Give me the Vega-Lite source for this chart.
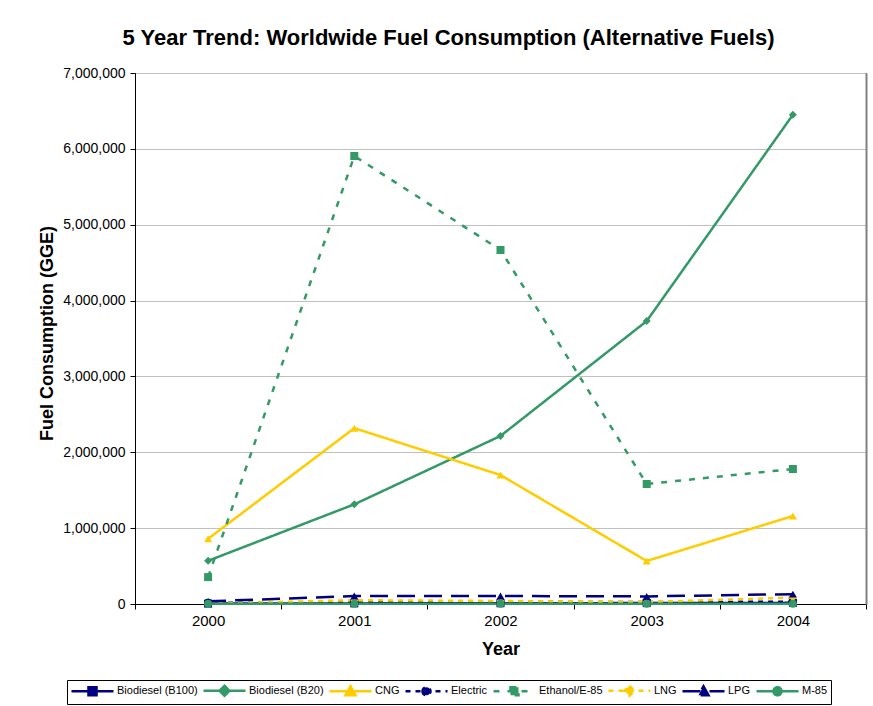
{
  "$schema": "https://vega.github.io/schema/vega-lite/v6.json",
  "width": 731,
  "height": 531,
  "autosize": {"type": "none"},
  "padding": {"left": 135, "top": 73, "right": 7, "bottom": 102},
  "background": "white",
  "title": {
    "text": "5 Year Trend: Worldwide Fuel Consumption (Alternative Fuels)",
    "font": "Liberation Sans",
    "fontSize": 22,
    "fontWeight": "bold",
    "color": "black",
    "anchor": "middle",
    "dx": -52,
    "offset": 16
  },
  "config": {
    "view": {"stroke": "black", "strokeWidth": 1},
    "font": "Liberation Sans"
  },
  "data": {
    "values": [
      {"year": "2000", "fuel": "Biodiesel (B100)", "value": 5000},
      {"year": "2001", "fuel": "Biodiesel (B100)", "value": 8000},
      {"year": "2002", "fuel": "Biodiesel (B100)", "value": 10000},
      {"year": "2003", "fuel": "Biodiesel (B100)", "value": 12000},
      {"year": "2004", "fuel": "Biodiesel (B100)", "value": 15000},
      {"year": "2000", "fuel": "Biodiesel (B20)", "value": 570000},
      {"year": "2001", "fuel": "Biodiesel (B20)", "value": 1314000},
      {"year": "2002", "fuel": "Biodiesel (B20)", "value": 2215000},
      {"year": "2003", "fuel": "Biodiesel (B20)", "value": 3730000},
      {"year": "2004", "fuel": "Biodiesel (B20)", "value": 6450000},
      {"year": "2000", "fuel": "CNG", "value": 860000},
      {"year": "2001", "fuel": "CNG", "value": 2318000},
      {"year": "2002", "fuel": "CNG", "value": 1700000},
      {"year": "2003", "fuel": "CNG", "value": 567000},
      {"year": "2004", "fuel": "CNG", "value": 1160000},
      {"year": "2000", "fuel": "Electric", "value": 15000},
      {"year": "2001", "fuel": "Electric", "value": 20000},
      {"year": "2002", "fuel": "Electric", "value": 30000},
      {"year": "2003", "fuel": "Electric", "value": 25000},
      {"year": "2004", "fuel": "Electric", "value": 30000},
      {"year": "2000", "fuel": "Ethanol/E-85", "value": 355000},
      {"year": "2001", "fuel": "Ethanol/E-85", "value": 5906000},
      {"year": "2002", "fuel": "Ethanol/E-85", "value": 4667000},
      {"year": "2003", "fuel": "Ethanol/E-85", "value": 1582000},
      {"year": "2004", "fuel": "Ethanol/E-85", "value": 1780000},
      {"year": "2000", "fuel": "LNG", "value": 5000},
      {"year": "2001", "fuel": "LNG", "value": 50000},
      {"year": "2002", "fuel": "LNG", "value": 40000},
      {"year": "2003", "fuel": "LNG", "value": 25000},
      {"year": "2004", "fuel": "LNG", "value": 85000},
      {"year": "2000", "fuel": "LPG", "value": 35000},
      {"year": "2001", "fuel": "LPG", "value": 105000},
      {"year": "2002", "fuel": "LPG", "value": 105000},
      {"year": "2003", "fuel": "LPG", "value": 100000},
      {"year": "2004", "fuel": "LPG", "value": 130000},
      {"year": "2000", "fuel": "M-85", "value": 3000},
      {"year": "2001", "fuel": "M-85", "value": 3000},
      {"year": "2002", "fuel": "M-85", "value": 3000},
      {"year": "2003", "fuel": "M-85", "value": 3000},
      {"year": "2004", "fuel": "M-85", "value": 3000}
    ]
  },
  "encoding": {
    "x": {
      "field": "year",
      "type": "ordinal",
      "scale": {"paddingInner": 0, "paddingOuter": 0},
      "axis": {
        "title": "Year",
        "titleFont": "Liberation Sans",
        "titleFontSize": 18,
        "titleFontWeight": "bold",
        "titleColor": "black",
        "titlePadding": 12,
        "labelAngle": 0,
        "labelFont": "Liberation Sans",
        "labelFontSize": 15,
        "labelColor": "black",
        "labelPadding": 4,
        "tickBand": "extent",
        "tickSize": 5,
        "tickColor": "black",
        "domainColor": "black",
        "grid": false
      }
    },
    "y": {
      "field": "value",
      "type": "quantitative",
      "scale": {"domain": [0, 7000000], "nice": false, "zero": true},
      "axis": {
        "title": "Fuel Consumption (GGE)",
        "titleFont": "Liberation Sans",
        "titleFontSize": 18,
        "titleFontWeight": "bold",
        "titleColor": "black",
        "titleX": -79,
        "titleY": 260,
        "titleAnchor": "middle",
        "values": [0, 1000000, 2000000, 3000000, 4000000, 5000000, 6000000, 7000000],
        "format": ",d",
        "labelFont": "Liberation Sans",
        "labelFontSize": 14,
        "labelColor": "black",
        "labelPadding": 5,
        "tickSize": 5,
        "tickColor": "black",
        "domainColor": "black",
        "grid": true,
        "gridColor": "#c0c0c0",
        "gridWidth": 1
      }
    }
  },
  "resolve": {"axis": {"y": "independent"}},
  "layer": [
    {
      "mark": {"type": "line", "strokeWidth": 2.5},
      "encoding": {
        "strokeDash": {
          "field": "fuel",
          "type": "nominal",
          "scale": {
            "domain": ["Biodiesel (B100)", "Biodiesel (B20)", "CNG", "Electric", "Ethanol/E-85", "LNG", "LPG", "M-85"],
            "range": [[1, 0], [1, 0], [1, 0], [5, 5], [6, 8], [5, 5], [18, 9], [1, 0]]
          }
        },
        "color": {
          "field": "fuel",
          "type": "nominal",
          "scale": {
            "domain": ["Biodiesel (B100)", "Biodiesel (B20)", "CNG", "Electric", "Ethanol/E-85", "LNG", "LPG", "M-85"],
            "range": ["#000080", "#339966", "#FFCC00", "#000080", "#339966", "#FFCC00", "#000080", "#339966"]
          },
          "legend": {
            "orient": "none",
            "legendX": -68,
            "legendY": 607,
            "direction": "horizontal",
            "columns": 8,
            "title": null,
            "strokeColor": "black",
            "fillColor": "white",
            "padding": 3,
            "labelFont": "Liberation Sans",
            "labelFontSize": 11,
            "labelColor": "black",
            "labelOffset": 32,
            "columnPadding": 0,
            "symbolSize": 144,
            "symbolStrokeWidth": 2.5,
            "symbolType": "stroke",
            "encode": {
              "symbols": {
                "update": {
                  "shape": {"signal": "(datum.value === 'Biodiesel (B100)' || datum.value === 'Ethanol/E-85') ? 'M-1,0H6M1.83,-0.67H3.17V0.67H1.83Z' : (datum.value === 'Biodiesel (B20)' || datum.value === 'LNG') ? 'M-1,0H6M2.5,-0.83L3.33,0L2.5,0.83L1.67,0Z' : (datum.value === 'CNG' || datum.value === 'LPG') ? 'M-1,0H6M2.5,-0.83L3.33,0.67H1.67Z' : 'M-1,0H6M1.83,0A0.67,0.67,0,1,0,3.17,0A0.67,0.67,0,1,0,1.83,0Z'"},
                  "fill": {"scale": "color", "field": "value"},
                  "fillOpacity": {"value": 1}
                }
              }
            }
          }
        }
      }
    },
    {
      "transform": [{"calculate": "datum.fuel", "as": "series"}],
      "mark": {"type": "point", "filled": true, "opacity": 1, "size": 64, "strokeWidth": 0},
      "encoding": {
        "y": {
          "field": "value",
          "type": "quantitative",
          "axis": {
            "orient": "right",
            "title": null,
            "labels": false,
            "ticks": false,
            "grid": false,
            "domainColor": "#808080",
            "domainWidth": 2
          }
        },
        "fill": {
          "field": "series",
          "type": "nominal",
          "legend": null,
          "scale": {
            "range": ["#000080", "#339966", "#FFCC00", "#000080", "#339966", "#FFCC00", "#000080", "#339966"]
          }
        },
        "shape": {
          "field": "series",
          "type": "nominal",
          "legend": null,
          "scale": {
            "range": ["square", "diamond", "triangle-up", "circle", "square", "diamond", "triangle-up", "circle"]
          }
        }
      }
    }
  ]
}
